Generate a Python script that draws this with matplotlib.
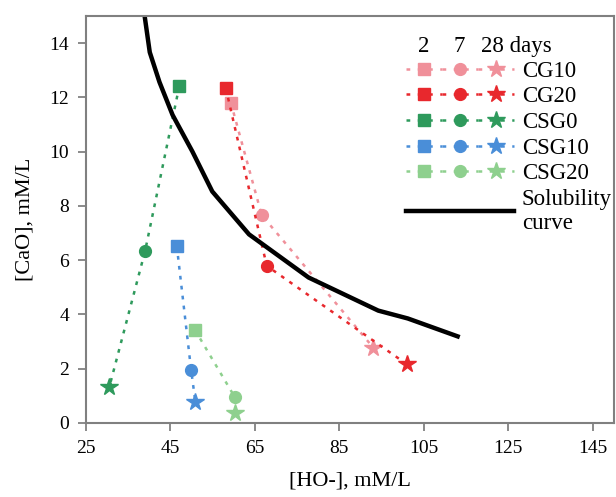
import matplotlib.pyplot as plt
from matplotlib.lines import Line2D
from matplotlib.legend_handler import HandlerTuple

plt.rcParams['font.family'] = ['Liberation Serif', 'DejaVu Serif']

# Data: [HO-] and [CaO] at 2, 7 and 28 days for each mix
names = ['CG10', 'CG20', 'CSG0', 'CSG10', 'CSG20']
colors = ['#F0909A', '#E8282D', '#2E9A5C', '#4A8ED8', '#8ED08E']
ho = [
    [59.3, 66.6, 93.0],
    [58.1, 67.8, 101.0],
    [47.1, 39.0, 30.5],
    [46.5, 49.9, 50.9],
    [50.8, 60.2, 60.3],
]
cao = [
    [11.8, 7.66, 2.78],
    [12.34, 5.79, 2.16],
    [12.42, 6.34, 1.31],
    [6.52, 1.94, 0.78],
    [3.43, 0.96, 0.37],
]

# Solubility curve
sol_ho = [38.7, 40.1, 42.4, 45.5, 50.2, 54.9, 63.6, 77.7, 94.2, 101.2, 113.0]
sol_cao = [15.2, 13.66, 12.56, 11.35, 10.0, 8.53, 6.95, 5.36, 4.14, 3.85, 3.19]

markers = ['s', 'o', '*']
msizes = [8, 8.5, 13]
dots = (0, (1.5, 2.5))

fig = plt.figure(figsize=(6.16, 4.97), dpi=100)
ax = fig.add_axes([0.1396, 0.149, 0.857, 0.819])

handles = []
for name, c, xs, ys in zip(names, colors, ho, cao):
    ax.plot(xs, ys, color=c, linestyle=dots, linewidth=1.8)
    for x, y, m, s in zip(xs, ys, markers, msizes):
        ax.plot(x, y, marker=m, markersize=s, color=c, linestyle='none')
    handles.append(tuple(Line2D([], [], color=c, marker=m, markersize=s,
                                linestyle=(0, (1.5, 3)), linewidth=1.8)
                         for m, s in zip(markers, msizes)))

sol, = ax.plot(sol_ho, sol_cao, color='black', linewidth=3.2)
handles.append(sol)
labels = names + ['Solubility\ncurve']

ax.set_xlim(25, 150)
ax.set_ylim(0, 15)
ax.set_xticks([25, 45, 65, 85, 105, 125, 145])
ax.set_yticks(range(0, 15, 2))
ax.tick_params(labelsize=14, color='#777777', length=6, width=1.2, pad=6)
for sp in ax.spines.values():
    sp.set_color('#808080')
    sp.set_linewidth(1.5)

ax.set_xlabel('[HO-], mM/L', fontsize=16, labelpad=11)
ax.set_ylabel('[CaO], mM/L', fontsize=16, labelpad=11)

leg = ax.legend(handles, labels, handler_map={tuple: HandlerTuple(ndivide=None, pad=0.0)},
                loc='upper left', bbox_to_anchor=(0.606, 0.890), frameon=False,
                fontsize=16.5, handlelength=4.7, handletextpad=0.35, labelspacing=0.2,
                borderpad=0, borderaxespad=0)

head_y = 0.924
ax.text(0.640, head_y, '2', transform=ax.transAxes, fontsize=16.5, ha='center', va='center')
ax.text(0.706, head_y, '7', transform=ax.transAxes, fontsize=16.5, ha='center', va='center')
ax.text(0.748, head_y, '28 days', transform=ax.transAxes, fontsize=16.5, ha='left', va='center')

fig.savefig('out.png', dpi=100)
